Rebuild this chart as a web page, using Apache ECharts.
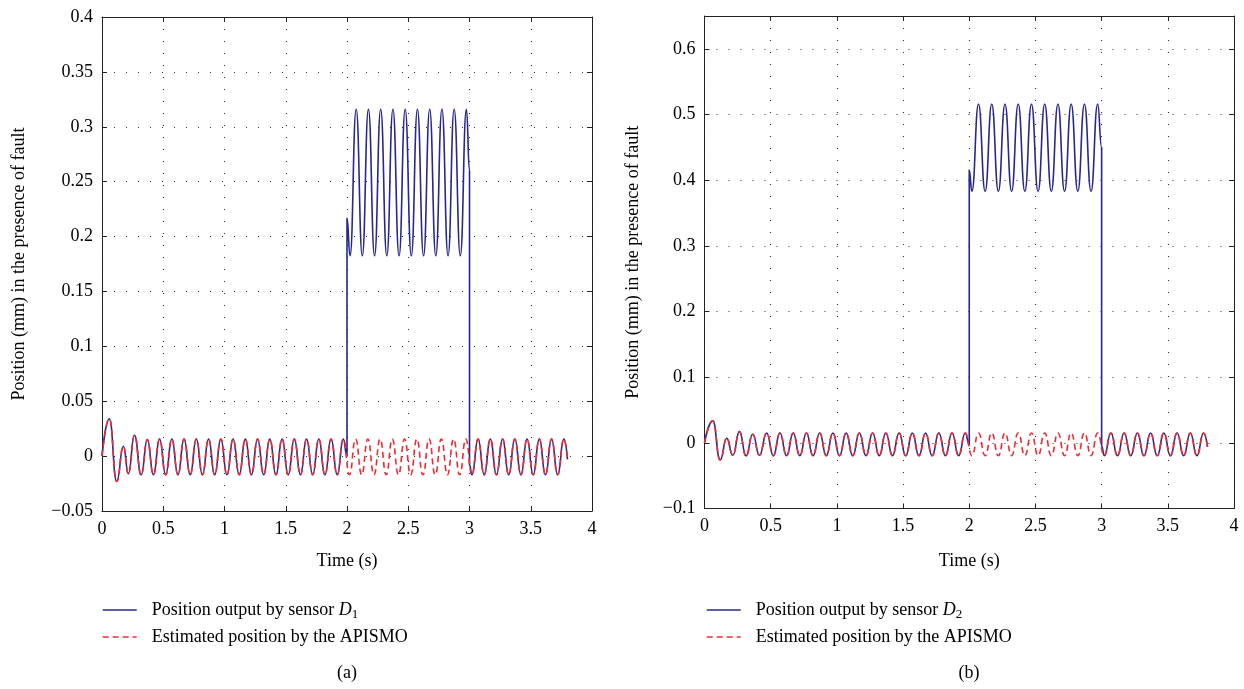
<!DOCTYPE html>
<html>
<head>
<meta charset="utf-8">
<script src="https://cdn.jsdelivr.net/npm/echarts@6/dist/echarts.min.js"></script>
<style>
    html,body{margin:0;padding:0;background:#fff;}
    #main{width:1244px;height:689px;}
</style>
</head>
<body>
<div id="main"></div>
<script>
    // (a) peaks/troughs of the estimated position
    var estT_a = [0, 0.06, 0.12, 0.175, 0.215, 0.265, 0.32, 0.37, 0.42,
        0.47, 0.52, 0.57, 0.62, 0.67, 0.72, 0.77, 0.82, 0.87, 0.92,
        0.97, 1.02, 1.07, 1.12, 1.17, 1.22, 1.27, 1.32, 1.37, 1.42,
        1.47, 1.52, 1.57, 1.62, 1.67, 1.72, 1.77, 1.82, 1.87, 1.92,
        1.97, 2.02, 2.07, 2.12, 2.17, 2.22, 2.27, 2.32, 2.37, 2.42,
        2.47, 2.52, 2.57, 2.62, 2.67, 2.72, 2.77, 2.82, 2.87, 2.92,
        2.97, 3.02, 3.07, 3.12, 3.17, 3.22, 3.27, 3.32, 3.37, 3.42,
        3.47, 3.52, 3.57, 3.62, 3.67, 3.72, 3.77, 3.8];
    var estV_a = [0, 0.034, -0.023, 0.009, -0.016, 0.019, -0.017, 0.015, -0.017,
        0.0155, -0.017, 0.0155, -0.017, 0.0155, -0.017, 0.0155, -0.017, 0.0155, -0.017,
        0.0155, -0.017, 0.0155, -0.017, 0.0155, -0.017, 0.0155, -0.017, 0.0155, -0.017,
        0.0155, -0.017, 0.0155, -0.017, 0.0155, -0.017, 0.0155, -0.017, 0.0155, -0.017,
        0.0155, -0.017, 0.0155, -0.017, 0.0155, -0.017, 0.0155, -0.017, 0.0155, -0.017,
        0.0155, -0.017, 0.0155, -0.017, 0.0155, -0.017, 0.0155, -0.017, 0.0155, -0.017,
        0.0155, -0.017, 0.0155, -0.017, 0.0155, -0.017, 0.0155, -0.017, 0.0155, -0.017,
        0.0155, -0.017, 0.0155, -0.017, 0.0155, -0.017, 0.0155, -0.003];
    // (a) sensor D1 while the fault is on (2 s .. 3 s)
    var faultT_a = [2, 2, 2.025, 2.075, 2.125, 2.175, 2.225, 2.275, 2.325, 2.375, 2.425, 2.475,
        2.525, 2.575, 2.625, 2.675, 2.725, 2.775, 2.825, 2.875, 2.925, 2.975, 3, 3];
    var faultV_a = [0, 0.2166, 0.1825, 0.316, 0.1825, 0.316, 0.1825, 0.316, 0.1825, 0.316, 0.1825, 0.316,
        0.1825, 0.316, 0.1825, 0.316, 0.1825, 0.316, 0.1825, 0.316, 0.1825, 0.316, 0.26, -0.008];

    // (b)
    var estT_b = [0, 0.063, 0.118, 0.168, 0.214, 0.264, 0.314, 0.364, 0.415,
        0.47, 0.52, 0.57, 0.62, 0.67, 0.72, 0.77, 0.82, 0.87, 0.92,
        0.97, 1.02, 1.07, 1.12, 1.17, 1.22, 1.27, 1.32, 1.37, 1.42,
        1.47, 1.52, 1.57, 1.62, 1.67, 1.72, 1.77, 1.82, 1.87, 1.92,
        1.97, 2.02, 2.07, 2.12, 2.17, 2.22, 2.27, 2.32, 2.37, 2.42,
        2.47, 2.52, 2.57, 2.62, 2.67, 2.72, 2.77, 2.82, 2.87, 2.92,
        2.97, 3.02, 3.07, 3.12, 3.17, 3.22, 3.27, 3.32, 3.37, 3.42,
        3.47, 3.52, 3.57, 3.62, 3.67, 3.72, 3.77, 3.8];
    var estV_b = [0, 0.0335, -0.026, 0.007, -0.019, 0.017, -0.02, 0.013, -0.019,
        0.015, -0.0195, 0.015, -0.0195, 0.015, -0.0195, 0.015, -0.0195, 0.015, -0.0195,
        0.015, -0.0195, 0.015, -0.0195, 0.015, -0.0195, 0.015, -0.0195, 0.015, -0.0195,
        0.015, -0.0195, 0.015, -0.0195, 0.015, -0.0195, 0.015, -0.0195, 0.015, -0.0195,
        0.015, -0.0195, 0.015, -0.0195, 0.015, -0.0195, 0.015, -0.0195, 0.015, -0.0195,
        0.015, -0.0195, 0.015, -0.0195, 0.015, -0.0195, 0.015, -0.0195, 0.015, -0.0195,
        0.015, -0.0195, 0.015, -0.0195, 0.015, -0.0195, 0.015, -0.0195, 0.015, -0.0195,
        0.015, -0.0195, 0.015, -0.0195, 0.015, -0.0195, 0.015, -0.006];
    var faultT_b = [2, 2, 2.02, 2.07, 2.12, 2.17, 2.22, 2.27, 2.32, 2.37, 2.42, 2.47,
        2.52, 2.57, 2.62, 2.67, 2.72, 2.77, 2.82, 2.87, 2.92, 2.97, 3, 3];
    var faultV_b = [-0.003, 0.4155, 0.383, 0.516, 0.383, 0.516, 0.383, 0.516, 0.383, 0.516, 0.383, 0.516,
        0.383, 0.516, 0.383, 0.516, 0.383, 0.516, 0.383, 0.516, 0.383, 0.516, 0.45, -0.005];

    var xTicks = {min: 0, max: 4, interval: 0.5};
    var yTicks_a = {min: -0.05, max: 0.4, interval: 0.05};
    var yTicks_b = {min: -0.1, max: 0.65, interval: 0.1};

    var FONT = 'Liberation Serif';
    var BLUE = '#27278e';
    var RED = '#ee2b33';
    var SENSOR_A = 'Position output by sensor D1';
    var SENSOR_B = 'Position output by sensor D2';
    var EST = 'Estimated position by the APISMO';

    function pairs(t, v){
        var out = [];
        for (var i = 0; i < t.length; i++) out.push([t[i], v[i]]);
        return out;
    }
    // sensor = estimate outside the fault window, fault trace inside it
    function sensor(t, v, ft, fv){
        var out = [];
        for (var i = 0; i < t.length; i++) if (t[i] < 2) out.push([t[i], v[i]]);
        out = out.concat(pairs(ft, fv));
        for (var j = 0; j < t.length; j++) if (t[j] > 3) out.push([t[j], v[j]]);
        return out;
    }
    function minus(v){
        return String(v).replace('-', '\u2212');
    }

    var lineCol = '#222';
    var gridLine = {show: true, lineStyle: {type: [1, 11], color: '#333', width: 1.1}};
    function mainX(g, gap){
        return {
            type: 'value', gridIndex: g, min: xTicks.min, max: xTicks.max, interval: xTicks.interval,
            name: 'Time (s)', nameLocation: 'middle', nameGap: gap,
            nameTextStyle: {fontSize: 18, color: '#000', fontFamily: FONT},
            axisLine: {onZero: false, lineStyle: {color: lineCol, width: 1}},
            axisTick: {inside: true, length: 5, lineStyle: {color: lineCol}},
            axisLabel: {fontSize: 18, color: '#000', margin: 9, fontFamily: FONT, formatter: minus},
            splitLine: gridLine
        };
    }
    function topX(g){
        return {
            type: 'value', gridIndex: g, position: 'top', min: xTicks.min, max: xTicks.max, interval: xTicks.interval,
            axisLine: {onZero: false, lineStyle: {color: lineCol, width: 1}},
            axisTick: {inside: true, length: 5, lineStyle: {color: lineCol}},
            axisLabel: {show: false}, splitLine: {show: false}
        };
    }
    function mainY(g, tk, gap, top){
        return {
            type: 'value', gridIndex: g, min: tk.min, max: tk.max, interval: tk.interval,
            name: 'Position (mm) in the presence of fault', nameLocation: 'middle', nameGap: gap,
            nameTextStyle: {fontSize: 18, color: '#000', fontFamily: FONT},
            axisLine: {onZero: false, lineStyle: {color: lineCol, width: 1}},
            axisTick: {inside: true, length: 5, lineStyle: {color: lineCol}},
            axisLabel: {fontSize: 18, color: '#000', margin: 9, fontFamily: FONT,
                formatter: function(v){ return v > top ? '' : minus(v); }},
            splitLine: gridLine
        };
    }
    function rightY(g, tk){
        return {
            type: 'value', gridIndex: g, position: 'right', min: tk.min, max: tk.max, interval: tk.interval,
            axisLine: {onZero: false, lineStyle: {color: lineCol, width: 1}},
            axisTick: {inside: true, length: 5, lineStyle: {color: lineCol}},
            axisLabel: {show: false}, splitLine: {show: false}
        };
    }
    function line(name, xi, yi, data, color, dash){
        return {
            name: name, type: 'line', xAxisIndex: xi, yAxisIndex: yi, data: data,
            symbol: 'none', smooth: 0.5, smoothMonotone: 'x',
            lineStyle: {color: color, width: 1.6, type: dash || 'solid'},
            itemStyle: {color: color}
        };
    }
    function legendFor(name1, x){
        return {
            data: [name1, EST], orient: 'vertical', left: x, top: 596,
            itemWidth: 34, itemHeight: 14, itemGap: 7,
            itemStyle: {opacity: 0},
            lineStyle: {width: 1.4},
            textStyle: {
                fontSize: 18, color: '#000', fontFamily: FONT, padding: [0, 0, 0, 10],
                rich: {
                    n: {fontSize: 18, fontFamily: FONT, color: '#000'},
                    i: {fontSize: 18, fontFamily: FONT, fontStyle: 'italic', color: '#000'},
                    s: {fontSize: 13, fontFamily: FONT, color: '#000', verticalAlign: 'bottom', padding: [9, 0, 0, 0]}
                }
            },
            formatter: function(n){
                if (n === SENSOR_A) return '{n|Position output by sensor }{i|D}{s|1}';
                if (n === SENSOR_B) return '{n|Position output by sensor }{i|D}{s|2}';
                return n;
            }
        };
    }

    var myChart = echarts.init(document.getElementById('main'));
    var option = {
        backgroundColor: '#fff',
        animation: false,
        textStyle: {fontFamily: FONT},
        grid: [
            {left: 102, top: 17, width: 490, height: 494},
            {left: 704.5, top: 16, width: 529.5, height: 492.5}
        ],
        xAxis: [mainX(0, 41), topX(0), mainX(1, 44), topX(1)],
        yAxis: [mainY(0, yTicks_a, 74, 0.41), rightY(0, yTicks_a), mainY(1, yTicks_b, 62, 0.61), rightY(1, yTicks_b)],
        legend: [legendFor(SENSOR_A, 97), legendFor(SENSOR_B, 701)],
        series: [
            line(SENSOR_A, 0, 0, sensor(estT_a, estV_a, faultT_a, faultV_a), BLUE),
            line(EST, 0, 0, pairs(estT_a, estV_a), RED, [6, 4]),
            line(SENSOR_B, 2, 2, sensor(estT_b, estV_b, faultT_b, faultV_b), BLUE),
            line(EST, 2, 2, pairs(estT_b, estV_b), RED, [6, 4])
        ],
        graphic: [
            {type: 'text', x: 347, y: 673, style: {text: '(a)', font: '18px "Liberation Serif"', fill: '#000', align: 'center', verticalAlign: 'middle'}},
            {type: 'text', x: 969, y: 673, style: {text: '(b)', font: '18px "Liberation Serif"', fill: '#000', align: 'center', verticalAlign: 'middle'}}
        ]
    };
    myChart.setOption(option);
</script>
</body>
</html>
